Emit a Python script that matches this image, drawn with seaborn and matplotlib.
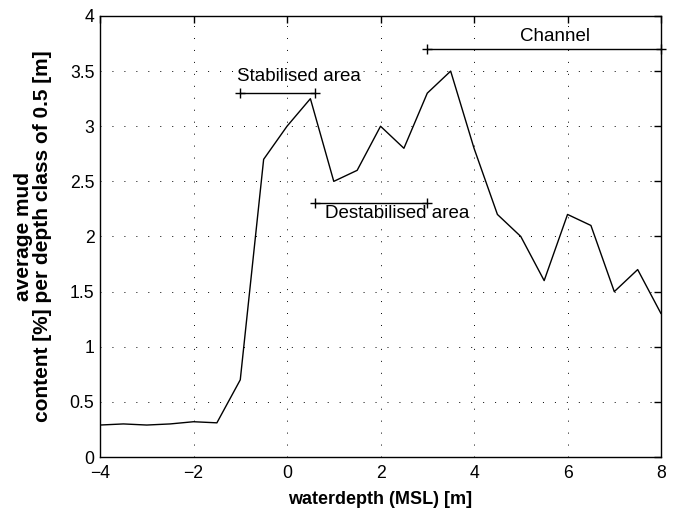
import numpy as np
import pandas as pd
import matplotlib
matplotlib.use("Agg")
import matplotlib.pyplot as plt
import seaborn as sns

# waterdepth classes (0.5 m) and average mud content
depth = [-4, -3.5, -3, -2.5, -2, -1.5, -1, -0.5, 0, 0.5, 1, 1.5, 2, 2.5,
         3, 3.5, 4, 4.5, 5, 5.5, 6, 6.5, 7, 7.5, 8]
mud = [0.29, 0.30, 0.29, 0.30, 0.32, 0.31, 0.70, 2.70, 3.00, 3.25, 2.50, 2.60,
       3.00, 2.80, 3.30, 3.50, 2.80, 2.20, 2.00, 1.60, 2.20, 2.10, 1.50, 1.70, 1.30]

# annotated zones: label, x start, x end, y level
zone_names = ["Stabilised area", "Destabilised area", "Channel"]
zone_x0 = [-1.0, 0.6, 3.0]
zone_x1 = [0.6, 3.0, 8.0]
zone_y = [3.3, 2.3, 3.7]

sns.set_style("white")
plt.rcParams["font.family"] = ["Liberation Sans", "DejaVu Sans"]
plt.rcParams["text.color"] = "black"
plt.rcParams["axes.labelcolor"] = "black"

df = pd.DataFrame({"depth": depth, "mud": mud})

fig = plt.figure(figsize=(6.78, 5.12), dpi=100)
ax = fig.add_axes([0.1475, 0.1074, 0.8275, 0.8614])

sns.lineplot(data=df, x="depth", y="mud", color="black", linewidth=1.0, ax=ax)

for name, x0, x1, y in zip(zone_names, zone_x0, zone_x1, zone_y):
    ax.plot([x0, x1], [y, y], color="black", linewidth=1.0, marker="+",
            markersize=7, markeredgewidth=1.0, clip_on=False, zorder=5)

ax.text(-1.07, 3.45, zone_names[0], fontsize=13.5, va="center", ha="left")
ax.text(0.81, 2.21, zone_names[1], fontsize=13.5, va="center", ha="left")
ax.text(5.73, 3.81, zone_names[2], fontsize=13.5, va="center", ha="center")

ax.set_xlim(-4, 8)
ax.set_ylim(0, 4)
ax.set_xticks(np.arange(-4, 9, 2))
ax.set_yticks(np.arange(0, 4.01, 0.5))
ax.set_xticklabels(["\u22124", "\u22122", "0", "2", "4", "6", "8"])
ax.set_yticklabels(["0", "0.5", "1", "1.5", "2", "2.5", "3", "3.5", "4"])
ax.grid(True, linestyle=(0, (1, 11.3)), color="black", linewidth=0.7)
ax.tick_params(direction="in", top=True, right=True, length=5, width=1,
               labelsize=12.7, colors="black")
ax.tick_params(axis="x", pad=6)
ax.tick_params(axis="y", pad=4)
for s in ax.spines.values():
    s.set_color("black")
    s.set_linewidth(1.0)

ax.set_xlabel("waterdepth (MSL) [m]", fontsize=13, fontweight="bold",
              labelpad=6)
ax.set_ylabel("average mud\ncontent [%] per depth class of 0.5 [m]",
              fontsize=15, fontweight="bold", linespacing=1.05)
ax.yaxis.set_label_coords(-0.085, 0.5)

fig.savefig("out.png", dpi=100)
